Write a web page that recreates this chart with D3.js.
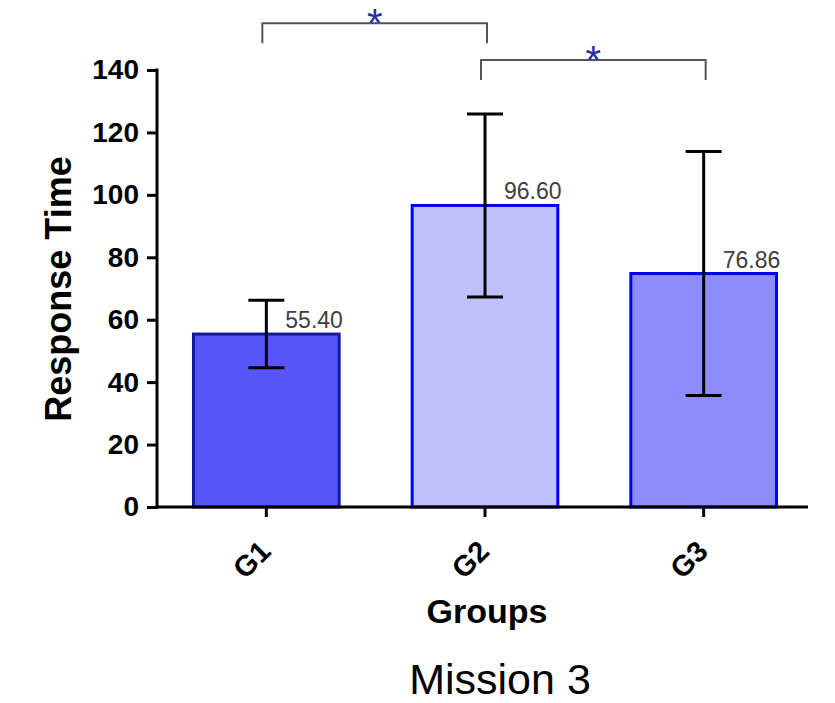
<!DOCTYPE html>
<html>
<head>
<meta charset="utf-8">
<script src="https://cdn.jsdelivr.net/npm/d3@7"></script>
<style>
  body { margin: 0; background: #fff; }
  text { font-family: Arial, "Liberation Sans", sans-serif; }
</style>
</head>
<body>
<div id="chart"></div>
<script>
// Mission 3 - response time per group

const groups = ["G1", "G2", "G3"];
const means = [55.4, 96.6, 74.8];
const errors = [10.8, 29.3, 39.1];
const valueLabels = ["55.40", "96.60", "76.86"];
const fills = ["#5757f9", "#c0c0fc", "#8c8cfc"];
const strokes = ["#16169a", "#0000f0", "#0000f0"];
const yTicks = [0, 20, 40, 60, 80, 100, 120, 140];
const sigPairs = [["G1", "G2"], ["G2", "G3"]];
const sigLevels = [155, 143.2];

const width = 835, height = 703;

const svg = d3.select("#chart")
    .append("svg")
    .attr("width", width)
    .attr("height", height);

const x = d3.scaleBand()
    .domain(groups)
    .range([157, 813])
    .paddingInner(0.32)
    .paddingOuter(0.16);

const y = d3.scaleLinear()
    .domain([0, 140])
    .range([507, 70]);

const cx = g => x(g) + x.bandwidth() / 2;

// bars
svg.append("g")
    .selectAll("rect")
    .data(groups)
    .join("rect")
    .attr("x", d => x(d) + 1.5)
    .attr("y", (d, i) => y(means[i]))
    .attr("width", x.bandwidth() - 3)
    .attr("height", (d, i) => y(0) - y(means[i]))
    .attr("fill", (d, i) => fills[i])
    .attr("stroke", (d, i) => strokes[i])
    .attr("stroke-width", 3);

// error bars
const err = svg.append("g")
    .attr("stroke", "#000")
    .attr("stroke-width", 3)
    .selectAll("g")
    .data(groups)
    .join("g");

err.append("line")
    .attr("x1", d => cx(d))
    .attr("x2", d => cx(d))
    .attr("y1", (d, i) => y(means[i] + errors[i]))
    .attr("y2", (d, i) => y(means[i] - errors[i]));

err.append("line")
    .attr("x1", d => cx(d) - 18)
    .attr("x2", d => cx(d) + 18)
    .attr("y1", (d, i) => y(means[i] + errors[i]))
    .attr("y2", (d, i) => y(means[i] + errors[i]));

err.append("line")
    .attr("x1", d => cx(d) - 18)
    .attr("x2", d => cx(d) + 18)
    .attr("y1", (d, i) => y(means[i] - errors[i]))
    .attr("y2", (d, i) => y(means[i] - errors[i]));

// value labels
svg.append("g")
    .selectAll("text")
    .data(groups)
    .join("text")
    .attr("x", d => cx(d) + 19)
    .attr("y", (d, i) => y(means[i]) - 6)
    .attr("font-size", 23)
    .attr("fill", "#404040")
    .text((d, i) => valueLabels[i]);

// y axis
const yAxis = svg.append("g")
    .attr("transform", `translate(${x.range()[0]},0)`)
    .call(d3.axisLeft(y).tickValues(yTicks).tickSize(10).tickPadding(8));

yAxis.select(".domain").attr("stroke-width", 3).attr("d", `M0,${y(140) - 1.5}V${y(0) + 1.5}`);
yAxis.selectAll(".tick line").attr("stroke-width", 3);
yAxis.selectAll(".tick text")
    .attr("font-size", 28)
    .attr("font-weight", "bold")
    .attr("font-family", "Arial, 'Liberation Sans', sans-serif")
    .attr("fill", "#000");

// x axis
const xAxis = svg.append("g")
    .attr("transform", `translate(0,${y(0)})`)
    .call(d3.axisBottom(x).tickSize(10).tickSizeOuter(0).tickFormat(""));

xAxis.select(".domain").attr("stroke-width", 3).attr("d", `M${x.range()[0]},0H808`);
xAxis.selectAll(".tick line").attr("stroke-width", 3);

svg.append("g")
    .selectAll("text")
    .data(groups)
    .join("text")
    .attr("transform", d => `translate(${cx(d) + 6},${y(0) + 46}) rotate(-45)`)
    .attr("text-anchor", "end")
    .attr("font-size", 29)
    .attr("font-weight", "bold")
    .text(d => d);

// axis titles
svg.append("text")
    .attr("transform", `translate(71,289) rotate(-90)`)
    .attr("text-anchor", "middle")
    .attr("font-size", 36)
    .attr("font-weight", "bold")
    .text("Response Time");

svg.append("text")
    .attr("x", 487)
    .attr("y", 623)
    .attr("text-anchor", "middle")
    .attr("font-size", 34)
    .attr("font-weight", "bold")
    .text("Groups");

svg.append("text")
    .attr("x", 500)
    .attr("y", 694)
    .attr("text-anchor", "middle")
    .attr("font-size", 43)
    .text("Mission 3");

// significance brackets
const sig = svg.append("g")
    .selectAll("g")
    .data(sigPairs)
    .join("g");

sig.append("path")
    .attr("fill", "none")
    .attr("stroke", "#555")
    .attr("stroke-width", 2)
    .attr("d", (d, i) => {
        const top = y(sigLevels[i]), bot = top + 20;
        return `M${cx(d[0]) - 4},${bot}V${top}H${cx(d[1]) + 2}V${bot}`;
    });

sig.append("text")
    .attr("x", d => (cx(d[0]) + cx(d[1])) / 2 - 1)
    .attr("y", (d, i) => y(sigLevels[i]) + 14)
    .attr("text-anchor", "middle")
    .attr("font-size", 40)
    .attr("fill", "#2b2ba6")
    .text("*");
</script>
</body>
</html>
